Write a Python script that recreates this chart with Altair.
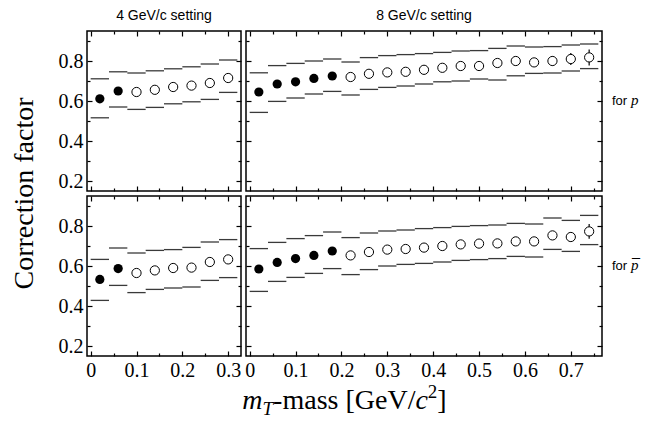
import altair as alt
import pandas as pd

# ---------------- data ----------------
x4 = [0.02, 0.06, 0.10, 0.14, 0.18, 0.22, 0.26, 0.30]
x8 = [0.02, 0.06, 0.10, 0.14, 0.18, 0.22, 0.26, 0.30, 0.34, 0.38,
      0.42, 0.46, 0.50, 0.54, 0.58, 0.62, 0.66, 0.70, 0.74]
half_bin = 0.02

# 4 GeV/c, p
p4_val = [0.611, 0.650, 0.645, 0.656, 0.670, 0.677, 0.690, 0.715]
p4_hi = [0.711, 0.746, 0.740, 0.751, 0.761, 0.771, 0.785, 0.805]
p4_lo = [0.516, 0.570, 0.558, 0.568, 0.586, 0.596, 0.608, 0.643]
p4_err = [0.005, 0.005, 0.005, 0.006, 0.006, 0.007, 0.008, 0.010]

# 8 GeV/c, p
p8_val = [0.645, 0.685, 0.696, 0.713, 0.725, 0.720, 0.736, 0.743, 0.746, 0.756,
          0.766, 0.775, 0.775, 0.790, 0.800, 0.793, 0.800, 0.810, 0.818]
p8_hi = [0.741, 0.777, 0.788, 0.800, 0.810, 0.795, 0.817, 0.827, 0.832, 0.837,
         0.843, 0.850, 0.852, 0.863, 0.875, 0.870, 0.872, 0.880, 0.885]
p8_lo = [0.543, 0.598, 0.615, 0.635, 0.648, 0.630, 0.658, 0.668, 0.675, 0.685,
         0.696, 0.700, 0.710, 0.705, 0.726, 0.738, 0.740, 0.750, 0.762]
p8_err = [0.004, 0.004, 0.004, 0.005, 0.005, 0.005, 0.006, 0.006, 0.007, 0.008,
          0.009, 0.010, 0.011, 0.012, 0.014, 0.018, 0.024, 0.030, 0.040]

# 4 GeV/c, pbar
pb4_val = [0.533, 0.587, 0.565, 0.578, 0.590, 0.592, 0.620, 0.633]
pb4_hi = [0.633, 0.690, 0.665, 0.678, 0.682, 0.693, 0.720, 0.732]
pb4_lo = [0.428, 0.503, 0.467, 0.483, 0.490, 0.495, 0.528, 0.542]
pb4_err = [0.006, 0.006, 0.007, 0.007, 0.008, 0.009, 0.010, 0.012]

# 8 GeV/c, pbar
pb8_val = [0.585, 0.618, 0.637, 0.653, 0.675, 0.653, 0.670, 0.682, 0.685, 0.692,
           0.700, 0.708, 0.712, 0.713, 0.723, 0.723, 0.753, 0.745, 0.773]
pb8_hi = [0.687, 0.718, 0.737, 0.752, 0.770, 0.742, 0.765, 0.775, 0.780, 0.787,
          0.792, 0.798, 0.802, 0.805, 0.813, 0.810, 0.840, 0.828, 0.853]
pb8_lo = [0.473, 0.523, 0.543, 0.563, 0.587, 0.557, 0.582, 0.600, 0.608, 0.613,
          0.620, 0.628, 0.632, 0.637, 0.648, 0.645, 0.683, 0.673, 0.707]
pb8_err = [0.004, 0.004, 0.005, 0.005, 0.005, 0.006, 0.006, 0.007, 0.008, 0.009,
           0.010, 0.011, 0.012, 0.013, 0.015, 0.018, 0.020, 0.022, 0.037]

n_filled_4 = 2
n_filled_8 = 5

x4_major = [0, 0.1, 0.2, 0.3]
x4_minor = [0.05, 0.15, 0.25]
x8_major = [0, 0.1, 0.2, 0.3, 0.4, 0.5, 0.6, 0.7]
x8_minor = [0.05, 0.15, 0.25, 0.35, 0.45, 0.55, 0.65, 0.75]
y_major = [0.2, 0.4, 0.6, 0.8]
y_minor = [0.3, 0.5, 0.7, 0.9]

titles = ["4 GeV/c setting", "8 GeV/c setting"]
y_title = "Correction factor"

# ---------------- styling ----------------
SERIF = "Liberation Serif"
SANS = "Liberation Sans"
W4, W8, H, GAP = 154, 356, 160, 5
X4_DOM = [-0.008, 0.328]
X8_DOM = [-0.008, 0.768]
Y_DOM = [0.15, 0.95]
BAR_COLOR = "#3a3a3a"
MSIZE = 85


def make_df(xs, val, hi, lo, err, nfilled):
    return pd.DataFrame({
        "x": xs,
        "xl": [x - half_bin for x in xs],
        "xr": [x + half_bin for x in xs],
        "val": val,
        "hi": hi,
        "lo": lo,
        "elo": [v - e for v, e in zip(val, err)],
        "ehi": [v + e for v, e in zip(val, err)],
        "filled": [i < nfilled for i in range(len(xs))],
    })


def ax(values, orient, size, labels, fmt):
    return alt.Axis(orient=orient, values=values, tickSize=size, offset=-size,
                    domain=False, grid=False, labels=labels, title=None,
                    format=fmt, labelFont=SERIF, labelFontSize=20,
                    labelColor="black", labelPadding=4, labelFlush=False,
                    labelOverlap=False, labelBound=False, tickColor="black",
                    tickWidth=1.2)


def panel(df, width, xdom, xmajor, xminor, xlabels, ylabels,
          title=None, side=None, xtitle=False, ytitle=False):
    xs = alt.Scale(domain=xdom, nice=False, zero=False)
    ys = alt.Scale(domain=Y_DOM, nice=False, zero=False)
    base = alt.Chart(df)
    hi = base.mark_rule(color=BAR_COLOR, strokeWidth=1.3).encode(
        x=alt.X("xl:Q", scale=xs, axis=ax(xmajor, "bottom", 5, xlabels, ".1~f")),
        x2="xr:Q",
        y=alt.Y("hi:Q", scale=ys, axis=ax(y_major, "left", 5, ylabels, ".1f")),
    )
    lo = base.mark_rule(color=BAR_COLOR, strokeWidth=1.3).encode(
        x=alt.X("xl:Q", scale=xs, axis=ax(xmajor, "top", 5, False, ".1~f")),
        x2="xr:Q",
        y=alt.Y("lo:Q", scale=ys, axis=ax(y_major, "right", 5, False, ".1f")),
    )
    err = base.mark_rule(color="black", strokeWidth=1.2).encode(
        x=alt.X("x:Q", scale=xs, axis=None),
        y=alt.Y("elo:Q", scale=ys, axis=None),
        y2="ehi:Q",
    )
    full = base.transform_filter("datum.filled").mark_point(
        shape="circle", filled=True, color="black", size=MSIZE, opacity=1).encode(
        x=alt.X("x:Q", scale=xs, axis=ax(xminor, "bottom", 3, False, ".2f")),
        y=alt.Y("val:Q", scale=ys, axis=ax(y_minor, "left", 3, False, ".1f")),
    )
    hollow = base.transform_filter("!datum.filled").mark_point(
        shape="circle", filled=True, fill="white", stroke="black",
        strokeWidth=1, size=MSIZE, opacity=1).encode(
        x=alt.X("x:Q", scale=xs, axis=ax(xminor, "top", 3, False, ".2f")),
        y=alt.Y("val:Q", scale=ys, axis=ax(y_minor, "right", 3, False, ".1f")),
    )
    layers = [hi, lo, err, full, hollow]
    one = pd.DataFrame({"k": [0]})
    if side is not None:
        sy = side[1]
        layers.append(alt.Chart(one).mark_text(
            align="left", baseline="alphabetic", font=SANS, fontSize=13,
            color="black").encode(x=alt.value(width + 10), y=alt.value(sy + 4),
                                  text=alt.value("for")))
        layers.append(alt.Chart(one).mark_text(
            align="left", baseline="alphabetic", font=SERIF, fontSize=15,
            fontStyle="italic", color="black").encode(
            x=alt.value(width + 29), y=alt.value(sy + 4),
            text=alt.value("p")))
        if side[0]:
            layers.append(alt.Chart(one).mark_text(
                align="center", baseline="alphabetic", font=SERIF, fontSize=16,
                color="black").encode(
                x=alt.value(width + 34), y=alt.value(sy + 5),
                text=alt.value("\u00af")))
    if ytitle:
        layers.append(alt.Chart(one).mark_text(
            align="center", baseline="middle", font=SERIF, fontSize=28,
            angle=270, color="black").encode(
            x=alt.value(-62), y=alt.value((2 * H + GAP) / 2.0),
            text=alt.value(y_title)))
    if xtitle:
        S, s = 28, 19
        pieces = [("m", "italic", S, 0, 0.722 * S),
                  ("T", "italic", s, 6, 0.556 * s),
                  ("-mass [GeV/", "normal", S, 0, 5.082 * S),
                  ("c", "italic", S, 0, 0.444 * S),
                  ("2", "normal", s, -11, 0.5 * s),
                  ("]", "normal", S, 0, 0.333 * S)]
        total = sum(p[4] for p in pieces)
        cx = (W4 + GAP + W8) / 2.0
        pos = cx - total / 2.0
        for txt, style, fs, dy, w in pieces:
            layers.append(alt.Chart(one).mark_text(
                align="left", baseline="alphabetic", font=SERIF, fontSize=fs,
                fontStyle=style, color="black").encode(
                x=alt.value(pos), y=alt.value(H + 53 + dy), text=alt.value(txt)))
            pos += w
    ch = alt.layer(*layers).resolve_axis(x="independent", y="independent")
    props = dict(width=width, height=H)
    if title is not None:
        props["title"] = alt.TitleParams(text=title, font=SANS, fontSize=14,
                                         fontWeight="normal", anchor="middle",
                                         offset=7, color="black")
    return ch.properties(**props)


df_p4 = make_df(x4, p4_val, p4_hi, p4_lo, p4_err, n_filled_4)
df_p8 = make_df(x8, p8_val, p8_hi, p8_lo, p8_err, n_filled_8)
df_pb4 = make_df(x4, pb4_val, pb4_hi, pb4_lo, pb4_err, n_filled_4)
df_pb8 = make_df(x8, pb8_val, pb8_hi, pb8_lo, pb8_err, n_filled_8)

tl = panel(df_p4, W4, X4_DOM, x4_major, x4_minor, False, True, title=titles[0],
           ytitle=True)
tr = panel(df_p8, W8, X8_DOM, x8_major, x8_minor, False, False, title=titles[1],
           side=(False, 70))
bl = panel(df_pb4, W4, X4_DOM, x4_major, x4_minor, True, True, xtitle=True)
br = panel(df_pb8, W8, X8_DOM, x8_major, x8_minor, True, False,
           side=(True, 70))

chart = alt.concat(tl, tr, bl, br, columns=2, spacing=GAP, bounds="flush").properties(
    padding={"left": 2, "top": 0, "right": 5, "bottom": 5},
    background="white",
).configure_view(stroke="black", strokeWidth=1.5)

chart.save("out.html", embed_options={"renderer": "svg", "actions": False})
